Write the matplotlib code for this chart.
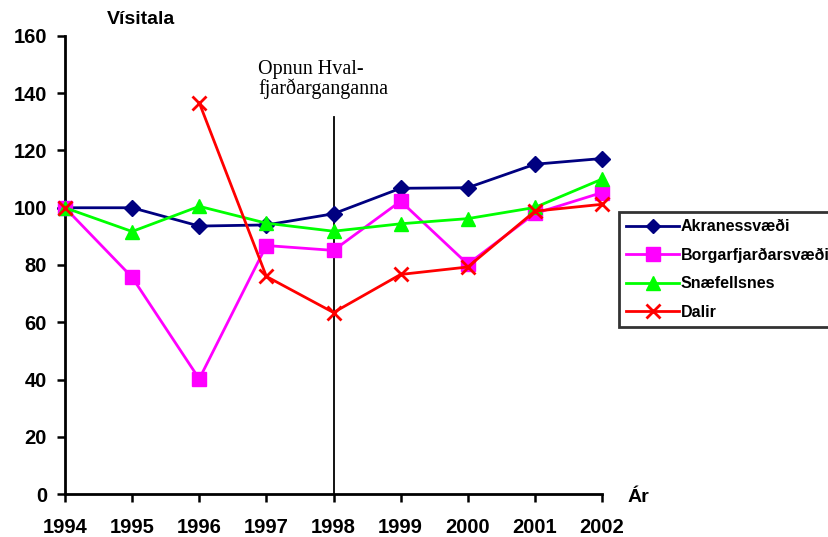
import numpy as np
import matplotlib
matplotlib.use("Agg")
import matplotlib.pyplot as plt

# Vísitala eftir svæðum, 1994 = 100
years = [1994, 1995, 1996, 1997, 1998, 1999, 2000, 2001, 2002]
akranes = [100, 100, 93.6, 94.0, 97.9, 106.8, 107.0, 115.2, 117.2]
borgarfjordur = [100, 75.7, 40.2, 86.8, 85.1, 102.3, 80.3, 98.0, 105.3]
snaefellsnes = [100, 91.7, 100.5, 94.6, 91.8, 94.4, 96.2, 100.1, 110.0]
dalir = [100, np.nan, 136.7, 76.0, 63.4, 76.7, 79.3, 98.8, 101.2]

series_names = ["Akranessvæði", "Borgarfjarðarsvæði", "Snæfellsnes", "Dalir"]
yticks = [0, 20, 40, 60, 80, 100, 120, 140, 160]
opening_year = 1998
note_text = "Opnun Hval-\nfjarðarganganna"

plt.rcParams["font.family"] = ["Liberation Sans", "DejaVu Sans"]

fig = plt.figure(figsize=(8.29, 5.37), dpi=100)
ax = fig.add_axes([65 / 829, 1 - 494 / 537, 537 / 829, 458 / 537])

styles = [
    dict(color="#000080", marker="D", markersize=8),
    dict(color="#FF00FF", marker="s", markersize=10),
    dict(color="#00FF00", marker="^", markersize=10),
    dict(color="#FF0000", marker="x", markersize=10, markeredgewidth=2),
]
for vals, name, st in zip([akranes, borgarfjordur, snaefellsnes, dalir], series_names, styles):
    ax.plot(years, vals, label=name, linewidth=2, clip_on=False, zorder=3, **st)

# lína við opnun ganganna
ax.plot([opening_year, opening_year], [0, 131.7], color="black", linewidth=1.3, zorder=2)
ax.text(1996.88, 151.6, note_text, family=["Liberation Serif", "DejaVu Serif"],
        fontsize=14.5, ha="left", va="top", linespacing=0.95)

ax.set_xlim(1994, 2002)
ax.set_ylim(0, 160)
ax.set_xticks(years)
ax.set_yticks(yticks)
ax.tick_params(axis="both", direction="out", length=6, width=1.8, labelsize=14.5)
ax.tick_params(axis="x", pad=11)
ax.tick_params(axis="y", pad=7)
for lbl in ax.get_xticklabels() + ax.get_yticklabels():
    lbl.set_fontweight("bold")

for side in ["top", "right"]:
    ax.spines[side].set_visible(False)
for side in ["left", "bottom"]:
    ax.spines[side].set_linewidth(2)

fig.text(107 / 829, 1 - 20 / 537, "Vísitala", fontsize=14, fontweight="bold", va="center", ha="left")
fig.text(627 / 829, 1 - 497 / 537, "Ár", fontsize=14, fontweight="bold", va="center", ha="left")

leg = fig.legend(loc="upper left", bbox_to_anchor=(619 / 829, 1 - 212 / 537),
                 prop=dict(size=11.5, weight="bold"), frameon=True, fancybox=False,
                 handlelength=3.3, handletextpad=0.1, labelspacing=0.85,
                 borderpad=0.45, borderaxespad=0, markerscale=0.95)
leg.get_frame().set_edgecolor("black")
leg.get_frame().set_linewidth(2)

fig.savefig("out.png", dpi=100)
